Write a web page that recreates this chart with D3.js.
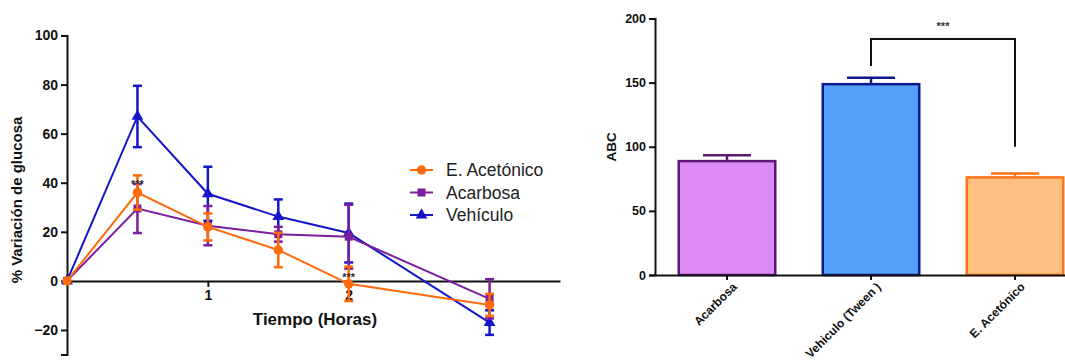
<!DOCTYPE html>
<html>
<head>
<meta charset="utf-8">
<script src="https://cdn.jsdelivr.net/npm/d3@7"></script>
<style>
  html, body { margin: 0; padding: 0; background: #fff; }
  svg { display: block; font-family: "Liberation Sans", Arial, sans-serif; }
</style>
</head>
<body>
<svg id="chart" width="1065" height="362"></svg>
<script>
// ---- Curva de glucosa (% variación vs tiempo) ----
const times = [0, 0.5, 1, 1.5, 2, 3];
const seriesNames = ["E. Acetónico", "Acarbosa", "Vehículo"];
const acetonicoMean = [0, 36, 22, 12.6, -1.2, -9.8];
const acetonicoSem  = [0, 7, 5.5, 7, 7, 4.5];
const acarbosaMean  = [0, 29.5, 22.5, 19, 18, -7.3];
const acarbosaSem   = [0, 10, 8, 3, 13, 8];
const vehiculoMean  = [0, 67, 35.5, 26.2, 19.5, -17];
const vehiculoSem   = [0, 12.5, 11, 7, 12, 5];
const lineYTicks = [-20, 0, 20, 40, 60, 80, 100];
const lineXTicks = [1, 2];
const lineSignif = [{ t: 0.5, y: 40 }, { t: 2, y: 2 }];

// ---- Área bajo la curva ----
const groups = ["Acarbosa", "Vehiculo (Tween )", "E. Acetónico"];
const abcMean = [88.8, 148.8, 76.1];
const abcSem  = [4.5, 5, 3];
const barYTicks = [0, 50, 100, 150, 200];

const svg = d3.select("#chart");
const ink = "#111";

// ================= Gráfico de líneas =================
const x = d3.scaleLinear().domain([0, 3.5]).range([67, 560]);
const y = d3.scaleLinear().domain([-30, 100]).range([354.5, 35.5]);

const lineColors = { "E. Acetónico": "#ff6a0a", "Acarbosa": "#7a1fa0", "Vehículo": "#1616c8" };
const series = [
  { name: "Vehículo", mean: vehiculoMean, sem: vehiculoSem, shape: d3.symbolTriangle, size: 60 },
  { name: "Acarbosa", mean: acarbosaMean, sem: acarbosaSem, shape: d3.symbolSquare, size: 64 },
  { name: "E. Acetónico", mean: acetonicoMean, sem: acetonicoSem, shape: d3.symbolCircle, size: 70 }
];

// eje Y
const gy = svg.append("g").attr("transform", `translate(${x(0)},0)`)
  .call(d3.axisLeft(y).tickValues(lineYTicks).tickSize(6).tickPadding(3));
gy.select(".domain").attr("stroke", ink).attr("stroke-width", 2);
gy.selectAll(".tick line").attr("stroke", ink).attr("stroke-width", 2);
gy.selectAll(".tick text").attr("fill", ink).attr("font-size", 14).attr("font-weight", "bold");

// eje X en y = 0
const gx = svg.append("g").attr("transform", `translate(0,${y(0)})`)
  .call(d3.axisBottom(x).tickValues(lineXTicks).tickFormat(d3.format("d")).tickSize(6).tickPadding(3).tickSizeOuter(0));
gx.select(".domain").attr("stroke", ink).attr("stroke-width", 2);
gx.selectAll(".tick line").attr("stroke", ink).attr("stroke-width", 2);
gx.selectAll(".tick text").attr("fill", ink).attr("font-size", 14).attr("font-weight", "bold");

svg.append("text")
  .attr("transform", `translate(22,${(y(100) + y(-30)) / 2 + 5}) rotate(-90)`)
  .attr("text-anchor", "middle").attr("font-size", 15).attr("font-weight", "bold").attr("fill", ink)
  .text("% Variación de glucosa");

svg.append("text")
  .attr("x", 315).attr("y", 325)
  .attr("text-anchor", "middle").attr("font-size", 17).attr("font-weight", "bold").attr("fill", ink)
  .text("Tiempo (Horas)");

const line = d3.line().x((d, i) => x(times[i])).y(d => y(d));

series.forEach(s => {
  const c = lineColors[s.name];
  const g = svg.append("g");
  g.append("path").datum(s.mean).attr("d", line)
    .attr("fill", "none").attr("stroke", c).attr("stroke-width", 2);
  // barras de error (SEM)
  times.forEach((t, i) => {
    if (s.sem[i] <= 0) return;
    const top = y(s.mean[i] + s.sem[i]), bot = y(s.mean[i] - s.sem[i]);
    g.append("line").attr("x1", x(t)).attr("x2", x(t)).attr("y1", top).attr("y2", bot)
      .attr("stroke", c).attr("stroke-width", 2.5);
    [top, bot].forEach(v => g.append("line")
      .attr("x1", x(t) - 4.5).attr("x2", x(t) + 4.5).attr("y1", v).attr("y2", v)
      .attr("stroke", c).attr("stroke-width", 2.5));
  });
  g.selectAll("path.sym").data(s.mean).join("path").attr("class", "sym")
    .attr("d", d3.symbol().type(s.shape).size(s.size))
    .attr("transform", (d, i) => `translate(${x(times[i])},${y(d)})`)
    .attr("fill", c);
});

lineSignif.forEach(a => svg.append("text")
  .attr("x", x(a.t)).attr("y", y(a.y) + 5)
  .attr("text-anchor", "middle").attr("font-size", 11).attr("font-weight", "bold").attr("fill", "#333")
  .text("***"));

// leyenda
const legend = svg.append("g");
seriesNames.forEach((name, i) => {
  const s = series.find(d => d.name === name);
  const cy = 170 + i * 22.5;
  legend.append("line").attr("x1", 410).attr("x2", 433).attr("y1", cy).attr("y2", cy)
    .attr("stroke", lineColors[name]).attr("stroke-width", 2);
  legend.append("path").attr("d", d3.symbol().type(s.shape).size(s.size)())
    .attr("transform", `translate(421.5,${cy})`).attr("fill", lineColors[name]);
  legend.append("text").attr("x", 446).attr("y", cy + 6)
    .attr("font-size", 17.5).attr("fill", "#222").text(name);
});

// ================= Gráfico de barras (ABC) =================
const xb = d3.scaleBand().domain(groups).range([655, 1087]).paddingInner(0.33).paddingOuter(0.165);
const yb = d3.scaleLinear().domain([0, 200]).range([275, 18.5]);

const barFill = ["#dc8bf6", "#559ef9", "#ffbf82"];
const barStroke = ["#5a1870", "#101a90", "#ff7418"];

const gby = svg.append("g").attr("transform", `translate(655,0)`)
  .call(d3.axisLeft(yb).tickValues(barYTicks).tickSize(6).tickPadding(3));
gby.select(".domain").attr("stroke", ink).attr("stroke-width", 2);
gby.selectAll(".tick line").attr("stroke", ink).attr("stroke-width", 2);
gby.selectAll(".tick text").attr("fill", ink).attr("font-size", 12.5).attr("font-weight", "bold");

svg.append("text")
  .attr("transform", `translate(616,${yb(100)}) rotate(-90)`)
  .attr("text-anchor", "middle").attr("font-size", 13.5).attr("font-weight", "bold").attr("fill", ink)
  .text("ABC");

// barras
groups.forEach((gname, i) => {
  const bx = xb(gname), bw = xb.bandwidth(), cx = bx + bw / 2;
  const topErr = yb(abcMean[i] + abcSem[i]);
  svg.append("line").attr("x1", cx).attr("x2", cx).attr("y1", topErr).attr("y2", yb(abcMean[i]))
    .attr("stroke", barStroke[i]).attr("stroke-width", 2.5);
  svg.append("line").attr("x1", cx - 24).attr("x2", cx + 24).attr("y1", topErr).attr("y2", topErr)
    .attr("stroke", barStroke[i]).attr("stroke-width", 2.5);
  svg.append("rect").attr("x", bx).attr("y", yb(abcMean[i]))
    .attr("width", bw).attr("height", yb(0) - yb(abcMean[i]))
    .attr("fill", barFill[i]).attr("stroke", barStroke[i]).attr("stroke-width", 2.5);
});

const gbx = svg.append("g").attr("transform", `translate(0,${yb(0)})`)
  .call(d3.axisBottom(xb).tickSize(5).tickSizeOuter(0));
gbx.select(".domain").attr("stroke", ink).attr("stroke-width", 2);
gbx.selectAll(".tick line").attr("stroke", ink).attr("stroke-width", 2);
gbx.selectAll(".tick text").attr("fill", ink).attr("font-size", 12).attr("font-weight", "bold")
  .attr("text-anchor", "end").attr("dy", 0)
  .attr("transform", "translate(5,7) rotate(-45)");

// corchete de significancia Vehiculo vs E. Acetónico
const c1 = xb(groups[1]) + xb.bandwidth() / 2, c2 = xb(groups[2]) + xb.bandwidth() / 2;
svg.append("path")
  .attr("d", `M${c1},${yb(163)}V${yb(184)}H${c2}V${yb(100)}`)
  .attr("fill", "none").attr("stroke", ink).attr("stroke-width", 2);
svg.append("text").attr("x", (c1 + c2) / 2).attr("y", yb(191))
  .attr("text-anchor", "middle").attr("font-size", 11).attr("font-weight", "bold").attr("fill", "#333")
  .text("***");
</script>
</body>
</html>
